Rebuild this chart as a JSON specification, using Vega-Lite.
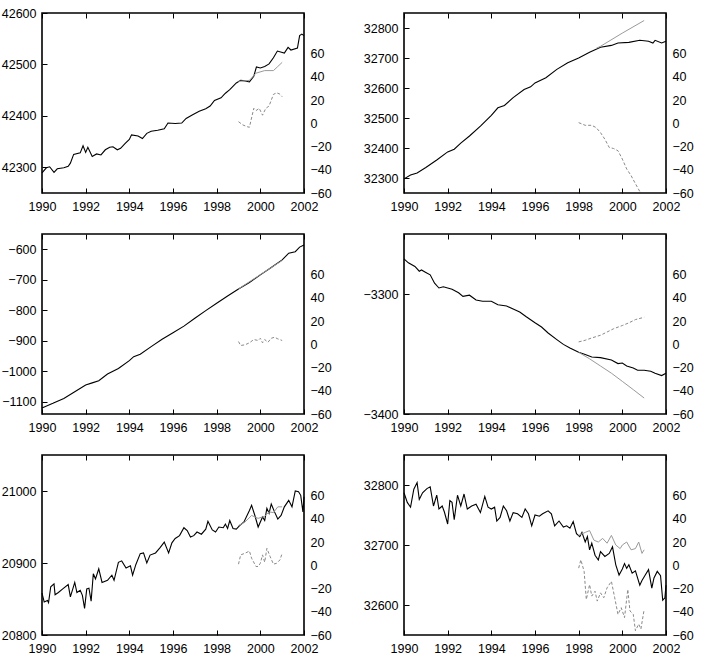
{
"$schema": "https://vega.github.io/schema/vega-lite/v6.json",
"padding": {"left": 0, "top": 6, "right": 5, "bottom": 5},
"config": {"view": {"stroke": "black", "strokeWidth": 1.6}, "axis": {"zindex": 2, "ticks": false, "labelFont": "Liberation Sans", "labelFontSize": 12.5, "labelColor": "black", "domain": false, "grid": true, "gridColor": "black", "gridOpacity": 1, "gridWidth": 1, "labelOverlap": false, "labelFlush": false, "title": null}, "axisX": {"labelPadding": 7}, "axisY": {"labelPadding": 6}},
"datasets": {"d": [
{"p":1,"s":"a","t":1990.0,"v":42289},{"p":1,"s":"a","t":1990.2,"v":42299},{"p":1,"s":"a","t":1990.35,"v":42301},{"p":1,"s":"a","t":1990.55,"v":42290},{"p":1,"s":"a","t":1990.7,"v":42297},{"p":1,"s":"a","t":1991.0,"v":42299},{"p":1,"s":"a","t":1991.2,"v":42302},{"p":1,"s":"a","t":1991.3,"v":42308},{"p":1,"s":"a","t":1991.45,"v":42325},{"p":1,"s":"a","t":1991.75,"v":42328},{"p":1,"s":"a","t":1991.88,"v":42342},{"p":1,"s":"a","t":1992.0,"v":42329},{"p":1,"s":"a","t":1992.1,"v":42339},{"p":1,"s":"a","t":1992.3,"v":42321},{"p":1,"s":"a","t":1992.5,"v":42326},{"p":1,"s":"a","t":1992.7,"v":42324},{"p":1,"s":"a","t":1992.9,"v":42334},{"p":1,"s":"a","t":1993.1,"v":42339},{"p":1,"s":"a","t":1993.25,"v":42340},{"p":1,"s":"a","t":1993.45,"v":42334},{"p":1,"s":"a","t":1993.6,"v":42337},{"p":1,"s":"a","t":1993.8,"v":42346},{"p":1,"s":"a","t":1994.0,"v":42354},{"p":1,"s":"a","t":1994.1,"v":42363},{"p":1,"s":"a","t":1994.4,"v":42361},{"p":1,"s":"a","t":1994.6,"v":42356},{"p":1,"s":"a","t":1994.8,"v":42366},{"p":1,"s":"a","t":1995.0,"v":42370},{"p":1,"s":"a","t":1995.3,"v":42372},{"p":1,"s":"a","t":1995.6,"v":42375},{"p":1,"s":"a","t":1995.77,"v":42386},{"p":1,"s":"a","t":1996.1,"v":42385},{"p":1,"s":"a","t":1996.4,"v":42386},{"p":1,"s":"a","t":1996.6,"v":42395},{"p":1,"s":"a","t":1996.9,"v":42402},{"p":1,"s":"a","t":1997.2,"v":42409},{"p":1,"s":"a","t":1997.5,"v":42414},{"p":1,"s":"a","t":1997.7,"v":42419},{"p":1,"s":"a","t":1997.9,"v":42430},{"p":1,"s":"a","t":1998.2,"v":42435},{"p":1,"s":"a","t":1998.4,"v":42444},{"p":1,"s":"a","t":1998.6,"v":42451},{"p":1,"s":"a","t":1998.9,"v":42464},{"p":1,"s":"a","t":1999.1,"v":42469},{"p":1,"s":"a","t":1999.3,"v":42468},{"p":1,"s":"a","t":1999.5,"v":42466},{"p":1,"s":"a","t":1999.7,"v":42477},{"p":1,"s":"a","t":1999.82,"v":42495},{"p":1,"s":"a","t":2000.0,"v":42493},{"p":1,"s":"a","t":2000.2,"v":42496},{"p":1,"s":"a","t":2000.4,"v":42501},{"p":1,"s":"a","t":2000.6,"v":42513},{"p":1,"s":"a","t":2000.78,"v":42526},{"p":1,"s":"a","t":2001.1,"v":42522},{"p":1,"s":"a","t":2001.27,"v":42533},{"p":1,"s":"a","t":2001.4,"v":42528},{"p":1,"s":"a","t":2001.7,"v":42532},{"p":1,"s":"a","t":2001.8,"v":42556},{"p":1,"s":"a","t":2001.9,"v":42559},{"p":1,"s":"a","t":2002.0,"v":42556},
{"p":1,"s":"f","t":1999.0,"v":42467},{"p":1,"s":"f","t":1999.5,"v":42469},{"p":1,"s":"f","t":1999.8,"v":42483},{"p":1,"s":"f","t":2000.2,"v":42488},{"p":1,"s":"f","t":2000.6,"v":42488},{"p":1,"s":"f","t":2000.8,"v":42496},{"p":1,"s":"f","t":2001.0,"v":42504},
{"p":1,"s":"d","t":1999.0,"v":1.4},{"p":1,"s":"d","t":1999.2,"v":-1.4},{"p":1,"s":"d","t":1999.4,"v":-2.9},{"p":1,"s":"d","t":1999.5,"v":-3.4},{"p":1,"s":"d","t":1999.7,"v":12.9},{"p":1,"s":"d","t":1999.8,"v":10.9},{"p":1,"s":"d","t":1999.95,"v":12.9},{"p":1,"s":"d","t":2000.1,"v":7},{"p":1,"s":"d","t":2000.25,"v":12.9},{"p":1,"s":"d","t":2000.4,"v":14.9},{"p":1,"s":"d","t":2000.6,"v":24.9},{"p":1,"s":"d","t":2000.75,"v":26.3},{"p":1,"s":"d","t":2000.9,"v":25.1},{"p":1,"s":"d","t":2001.0,"v":22.9},
{"p":2,"s":"a","t":1990.0,"v":32297},{"p":2,"s":"a","t":1990.3,"v":32310},{"p":2,"s":"a","t":1990.6,"v":32317},{"p":2,"s":"a","t":1991.0,"v":32335},{"p":2,"s":"a","t":1991.5,"v":32360},{"p":2,"s":"a","t":1992.0,"v":32387},{"p":2,"s":"a","t":1992.3,"v":32396},{"p":2,"s":"a","t":1992.6,"v":32416},{"p":2,"s":"a","t":1993.0,"v":32440},{"p":2,"s":"a","t":1993.5,"v":32473},{"p":2,"s":"a","t":1994.0,"v":32509},{"p":2,"s":"a","t":1994.3,"v":32534},{"p":2,"s":"a","t":1994.6,"v":32542},{"p":2,"s":"a","t":1995.0,"v":32568},{"p":2,"s":"a","t":1995.5,"v":32595},{"p":2,"s":"a","t":1995.8,"v":32604},{"p":2,"s":"a","t":1996.0,"v":32617},{"p":2,"s":"a","t":1996.5,"v":32634},{"p":2,"s":"a","t":1997.0,"v":32662},{"p":2,"s":"a","t":1997.5,"v":32684},{"p":2,"s":"a","t":1998.0,"v":32700},{"p":2,"s":"a","t":1998.5,"v":32719},{"p":2,"s":"a","t":1999.0,"v":32736},{"p":2,"s":"a","t":1999.5,"v":32742},{"p":2,"s":"a","t":1999.8,"v":32750},{"p":2,"s":"a","t":2000.3,"v":32752},{"p":2,"s":"a","t":2000.8,"v":32759},{"p":2,"s":"a","t":2001.2,"v":32756},{"p":2,"s":"a","t":2001.4,"v":32750},{"p":2,"s":"a","t":2001.5,"v":32759},{"p":2,"s":"a","t":2001.8,"v":32750},{"p":2,"s":"a","t":2002.0,"v":32756},
{"p":2,"s":"f","t":1998.8,"v":32732},{"p":2,"s":"f","t":1999.0,"v":32739},{"p":2,"s":"f","t":2000.0,"v":32783},{"p":2,"s":"f","t":2001.0,"v":32825},
{"p":2,"s":"d","t":1998.0,"v":0.6},{"p":2,"s":"d","t":1998.3,"v":-1.7},{"p":2,"s":"d","t":1998.6,"v":-1.7},{"p":2,"s":"d","t":1998.8,"v":-3.7},{"p":2,"s":"d","t":1999.0,"v":-8},{"p":2,"s":"d","t":1999.2,"v":-13.7},{"p":2,"s":"d","t":1999.4,"v":-20.8},{"p":2,"s":"d","t":1999.6,"v":-21.7},{"p":2,"s":"d","t":1999.8,"v":-23.6},{"p":2,"s":"d","t":2000.0,"v":-30.8},{"p":2,"s":"d","t":2000.2,"v":-39.3},{"p":2,"s":"d","t":2000.4,"v":-45},{"p":2,"s":"d","t":2000.6,"v":-52},{"p":2,"s":"d","t":2000.8,"v":-58.7},{"p":2,"s":"d","t":2000.85,"v":-60.6},
{"p":3,"s":"a","t":1990.0,"v":-1120},{"p":3,"s":"a","t":1990.5,"v":-1105},{"p":3,"s":"a","t":1991.0,"v":-1089},{"p":3,"s":"a","t":1991.5,"v":-1067},{"p":3,"s":"a","t":1992.0,"v":-1045},{"p":3,"s":"a","t":1992.3,"v":-1038},{"p":3,"s":"a","t":1992.6,"v":-1031},{"p":3,"s":"a","t":1993.0,"v":-1009},{"p":3,"s":"a","t":1993.5,"v":-991},{"p":3,"s":"a","t":1994.0,"v":-965},{"p":3,"s":"a","t":1994.2,"v":-952},{"p":3,"s":"a","t":1994.5,"v":-944},{"p":3,"s":"a","t":1995.0,"v":-919},{"p":3,"s":"a","t":1995.5,"v":-895},{"p":3,"s":"a","t":1996.0,"v":-874},{"p":3,"s":"a","t":1996.5,"v":-852},{"p":3,"s":"a","t":1997.0,"v":-826},{"p":3,"s":"a","t":1997.5,"v":-801},{"p":3,"s":"a","t":1998.0,"v":-777},{"p":3,"s":"a","t":1998.5,"v":-753},{"p":3,"s":"a","t":1999.0,"v":-730},{"p":3,"s":"a","t":1999.5,"v":-709},{"p":3,"s":"a","t":2000.0,"v":-684},{"p":3,"s":"a","t":2000.5,"v":-660},{"p":3,"s":"a","t":2001.0,"v":-635},{"p":3,"s":"a","t":2001.3,"v":-613},{"p":3,"s":"a","t":2001.6,"v":-608},{"p":3,"s":"a","t":2001.8,"v":-593},{"p":3,"s":"a","t":2002.0,"v":-586},
{"p":3,"s":"f","t":1999.0,"v":-730},{"p":3,"s":"f","t":2000.0,"v":-683},{"p":3,"s":"f","t":2001.0,"v":-637},
{"p":3,"s":"d","t":1999.0,"v":2.4},{"p":3,"s":"d","t":1999.1,"v":-1},{"p":3,"s":"d","t":1999.3,"v":-0.4},{"p":3,"s":"d","t":1999.5,"v":1.3},{"p":3,"s":"d","t":1999.7,"v":4.1},{"p":3,"s":"d","t":1999.9,"v":3.3},{"p":3,"s":"d","t":2000.0,"v":5.2},{"p":3,"s":"d","t":2000.1,"v":1.3},{"p":3,"s":"d","t":2000.2,"v":4.1},{"p":3,"s":"d","t":2000.35,"v":1.8},{"p":3,"s":"d","t":2000.5,"v":5.2},{"p":3,"s":"d","t":2000.65,"v":6.1},{"p":3,"s":"d","t":2000.8,"v":4.7},{"p":3,"s":"d","t":2001.0,"v":3.3},
{"p":4,"s":"a","t":1990.0,"v":-3270.8},{"p":4,"s":"a","t":1990.2,"v":-3274},{"p":4,"s":"a","t":1990.5,"v":-3277},{"p":4,"s":"a","t":1990.7,"v":-3281},{"p":4,"s":"a","t":1990.8,"v":-3280},{"p":4,"s":"a","t":1991.0,"v":-3282},{"p":4,"s":"a","t":1991.2,"v":-3284},{"p":4,"s":"a","t":1991.4,"v":-3291},{"p":4,"s":"a","t":1991.6,"v":-3295},{"p":4,"s":"a","t":1991.8,"v":-3294},{"p":4,"s":"a","t":1992.0,"v":-3295},{"p":4,"s":"a","t":1992.2,"v":-3296},{"p":4,"s":"a","t":1992.5,"v":-3299},{"p":4,"s":"a","t":1992.7,"v":-3302},{"p":4,"s":"a","t":1993.0,"v":-3301},{"p":4,"s":"a","t":1993.3,"v":-3305},{"p":4,"s":"a","t":1993.6,"v":-3306},{"p":4,"s":"a","t":1994.0,"v":-3306},{"p":4,"s":"a","t":1994.3,"v":-3309},{"p":4,"s":"a","t":1994.7,"v":-3310},{"p":4,"s":"a","t":1995.0,"v":-3312.5},{"p":4,"s":"a","t":1995.3,"v":-3315},{"p":4,"s":"a","t":1995.6,"v":-3319},{"p":4,"s":"a","t":1996.0,"v":-3324},{"p":4,"s":"a","t":1996.3,"v":-3327.5},{"p":4,"s":"a","t":1996.6,"v":-3332.5},{"p":4,"s":"a","t":1997.0,"v":-3338},{"p":4,"s":"a","t":1997.3,"v":-3342},{"p":4,"s":"a","t":1997.6,"v":-3345},{"p":4,"s":"a","t":1998.0,"v":-3348.6},{"p":4,"s":"a","t":1998.3,"v":-3350.5},{"p":4,"s":"a","t":1998.6,"v":-3352.5},{"p":4,"s":"a","t":1999.0,"v":-3353},{"p":4,"s":"a","t":1999.5,"v":-3355},{"p":4,"s":"a","t":1999.8,"v":-3358},{"p":4,"s":"a","t":2000.0,"v":-3357.5},{"p":4,"s":"a","t":2000.2,"v":-3360},{"p":4,"s":"a","t":2000.5,"v":-3361.7},{"p":4,"s":"a","t":2000.7,"v":-3363.6},{"p":4,"s":"a","t":2001.0,"v":-3363.6},{"p":4,"s":"a","t":2001.3,"v":-3364.4},{"p":4,"s":"a","t":2001.5,"v":-3366},{"p":4,"s":"a","t":2001.8,"v":-3368},{"p":4,"s":"a","t":2002.0,"v":-3366},
{"p":4,"s":"f","t":1998.0,"v":-3348.6},{"p":4,"s":"f","t":1998.5,"v":-3354},{"p":4,"s":"f","t":1999.0,"v":-3360},{"p":4,"s":"f","t":1999.5,"v":-3366},{"p":4,"s":"f","t":2000.0,"v":-3372.8},{"p":4,"s":"f","t":2000.5,"v":-3379.7},{"p":4,"s":"f","t":2001.0,"v":-3386.7},
{"p":4,"s":"d","t":1998.0,"v":2.1},{"p":4,"s":"d","t":1998.3,"v":3.5},{"p":4,"s":"d","t":1998.6,"v":5.5},{"p":4,"s":"d","t":1999.0,"v":7.8},{"p":4,"s":"d","t":1999.3,"v":10.6},{"p":4,"s":"d","t":1999.6,"v":13.4},{"p":4,"s":"d","t":2000.0,"v":16.2},{"p":4,"s":"d","t":2000.3,"v":18.5},{"p":4,"s":"d","t":2000.6,"v":21.3},{"p":4,"s":"d","t":2001.0,"v":23.3},
{"p":5,"s":"a","t":1990.0,"v":20858},{"p":5,"s":"a","t":1990.1,"v":20846},{"p":5,"s":"a","t":1990.25,"v":20848},{"p":5,"s":"a","t":1990.3,"v":20845},{"p":5,"s":"a","t":1990.4,"v":20867},{"p":5,"s":"a","t":1990.55,"v":20871},{"p":5,"s":"a","t":1990.6,"v":20856},{"p":5,"s":"a","t":1990.75,"v":20859},{"p":5,"s":"a","t":1990.95,"v":20864},{"p":5,"s":"a","t":1991.2,"v":20870},{"p":5,"s":"a","t":1991.3,"v":20853},{"p":5,"s":"a","t":1991.5,"v":20873},{"p":5,"s":"a","t":1991.6,"v":20859},{"p":5,"s":"a","t":1991.75,"v":20862},{"p":5,"s":"a","t":1991.85,"v":20855},{"p":5,"s":"a","t":1991.95,"v":20837},{"p":5,"s":"a","t":1992.05,"v":20864},{"p":5,"s":"a","t":1992.15,"v":20865},{"p":5,"s":"a","t":1992.25,"v":20847},{"p":5,"s":"a","t":1992.35,"v":20885},{"p":5,"s":"a","t":1992.45,"v":20878},{"p":5,"s":"a","t":1992.6,"v":20892},{"p":5,"s":"a","t":1992.75,"v":20873},{"p":5,"s":"a","t":1993.0,"v":20876},{"p":5,"s":"a","t":1993.2,"v":20883},{"p":5,"s":"a","t":1993.3,"v":20876},{"p":5,"s":"a","t":1993.5,"v":20901},{"p":5,"s":"a","t":1993.65,"v":20903},{"p":5,"s":"a","t":1993.85,"v":20893},{"p":5,"s":"a","t":1994.05,"v":20896},{"p":5,"s":"a","t":1994.15,"v":20883},{"p":5,"s":"a","t":1994.3,"v":20898},{"p":5,"s":"a","t":1994.5,"v":20913},{"p":5,"s":"a","t":1994.65,"v":20914},{"p":5,"s":"a","t":1994.8,"v":20900},{"p":5,"s":"a","t":1994.95,"v":20911},{"p":5,"s":"a","t":1995.2,"v":20914},{"p":5,"s":"a","t":1995.4,"v":20921},{"p":5,"s":"a","t":1995.6,"v":20929},{"p":5,"s":"a","t":1995.8,"v":20914},{"p":5,"s":"a","t":1995.95,"v":20928},{"p":5,"s":"a","t":1996.1,"v":20934},{"p":5,"s":"a","t":1996.3,"v":20938},{"p":5,"s":"a","t":1996.5,"v":20949},{"p":5,"s":"a","t":1996.65,"v":20945},{"p":5,"s":"a","t":1996.8,"v":20936},{"p":5,"s":"a","t":1996.95,"v":20938},{"p":5,"s":"a","t":1997.1,"v":20943},{"p":5,"s":"a","t":1997.3,"v":20940},{"p":5,"s":"a","t":1997.5,"v":20947},{"p":5,"s":"a","t":1997.6,"v":20958},{"p":5,"s":"a","t":1997.8,"v":20946},{"p":5,"s":"a","t":1997.95,"v":20943},{"p":5,"s":"a","t":1998.1,"v":20950},{"p":5,"s":"a","t":1998.3,"v":20949},{"p":5,"s":"a","t":1998.4,"v":20954},{"p":5,"s":"a","t":1998.5,"v":20948},{"p":5,"s":"a","t":1998.6,"v":20959},{"p":5,"s":"a","t":1998.75,"v":20948},{"p":5,"s":"a","t":1998.9,"v":20947},{"p":5,"s":"a","t":1999.05,"v":20952},{"p":5,"s":"a","t":1999.25,"v":20957},{"p":5,"s":"a","t":1999.5,"v":20973},{"p":5,"s":"a","t":1999.6,"v":20980},{"p":5,"s":"a","t":1999.75,"v":20966},{"p":5,"s":"a","t":1999.9,"v":20950},{"p":5,"s":"a","t":2000.1,"v":20964},{"p":5,"s":"a","t":2000.2,"v":20959},{"p":5,"s":"a","t":2000.3,"v":20976},{"p":5,"s":"a","t":2000.4,"v":20969},{"p":5,"s":"a","t":2000.5,"v":20982},{"p":5,"s":"a","t":2000.65,"v":20971},{"p":5,"s":"a","t":2000.8,"v":20961},{"p":5,"s":"a","t":2000.95,"v":20966},{"p":5,"s":"a","t":2001.1,"v":20978},{"p":5,"s":"a","t":2001.3,"v":20987},{"p":5,"s":"a","t":2001.45,"v":20978},{"p":5,"s":"a","t":2001.6,"v":21000},{"p":5,"s":"a","t":2001.75,"v":20999},{"p":5,"s":"a","t":2001.85,"v":20994},{"p":5,"s":"a","t":2001.95,"v":20971},{"p":5,"s":"a","t":2002.0,"v":20992},
{"p":5,"s":"f","t":1999.0,"v":20952},{"p":5,"s":"f","t":1999.3,"v":20957},{"p":5,"s":"f","t":1999.6,"v":20966},{"p":5,"s":"f","t":1999.9,"v":20962},{"p":5,"s":"f","t":2000.2,"v":20965},{"p":5,"s":"f","t":2000.4,"v":20971},{"p":5,"s":"f","t":2000.6,"v":20970},{"p":5,"s":"f","t":2000.8,"v":20978},{"p":5,"s":"f","t":2001.0,"v":20978},
{"p":5,"s":"d","t":1999.0,"v":1},{"p":5,"s":"d","t":1999.1,"v":9},{"p":5,"s":"d","t":1999.3,"v":10.4},{"p":5,"s":"d","t":1999.5,"v":12.3},{"p":5,"s":"d","t":1999.6,"v":6.1},{"p":5,"s":"d","t":1999.8,"v":-1},{"p":5,"s":"d","t":1999.9,"v":-1},{"p":5,"s":"d","t":2000.0,"v":1.8},{"p":5,"s":"d","t":2000.1,"v":9},{"p":5,"s":"d","t":2000.2,"v":2.7},{"p":5,"s":"d","t":2000.3,"v":14.6},{"p":5,"s":"d","t":2000.45,"v":7.5},{"p":5,"s":"d","t":2000.6,"v":1},{"p":5,"s":"d","t":2000.75,"v":1.8},{"p":5,"s":"d","t":2000.9,"v":4.7},{"p":5,"s":"d","t":2001.0,"v":10.4},
{"p":6,"s":"a","t":1990.0,"v":32787},{"p":6,"s":"a","t":1990.15,"v":32771},{"p":6,"s":"a","t":1990.3,"v":32763},{"p":6,"s":"a","t":1990.45,"v":32793},{"p":6,"s":"a","t":1990.6,"v":32804},{"p":6,"s":"a","t":1990.7,"v":32776},{"p":6,"s":"a","t":1990.85,"v":32787},{"p":6,"s":"a","t":1991.05,"v":32794},{"p":6,"s":"a","t":1991.2,"v":32797},{"p":6,"s":"a","t":1991.35,"v":32765},{"p":6,"s":"a","t":1991.5,"v":32783},{"p":6,"s":"a","t":1991.6,"v":32760},{"p":6,"s":"a","t":1991.75,"v":32765},{"p":6,"s":"a","t":1991.85,"v":32755},{"p":6,"s":"a","t":1992.0,"v":32735},{"p":6,"s":"a","t":1992.1,"v":32774},{"p":6,"s":"a","t":1992.2,"v":32771},{"p":6,"s":"a","t":1992.3,"v":32742},{"p":6,"s":"a","t":1992.45,"v":32783},{"p":6,"s":"a","t":1992.6,"v":32765},{"p":6,"s":"a","t":1992.75,"v":32785},{"p":6,"s":"a","t":1992.9,"v":32760},{"p":6,"s":"a","t":1993.1,"v":32765},{"p":6,"s":"a","t":1993.3,"v":32768},{"p":6,"s":"a","t":1993.5,"v":32754},{"p":6,"s":"a","t":1993.7,"v":32781},{"p":6,"s":"a","t":1993.85,"v":32763},{"p":6,"s":"a","t":1994.0,"v":32760},{"p":6,"s":"a","t":1994.15,"v":32763},{"p":6,"s":"a","t":1994.25,"v":32740},{"p":6,"s":"a","t":1994.4,"v":32746},{"p":6,"s":"a","t":1994.55,"v":32765},{"p":6,"s":"a","t":1994.7,"v":32757},{"p":6,"s":"a","t":1994.85,"v":32740},{"p":6,"s":"a","t":1995.0,"v":32754},{"p":6,"s":"a","t":1995.2,"v":32752},{"p":6,"s":"a","t":1995.4,"v":32746},{"p":6,"s":"a","t":1995.55,"v":32760},{"p":6,"s":"a","t":1995.7,"v":32752},{"p":6,"s":"a","t":1995.85,"v":32732},{"p":6,"s":"a","t":1996.0,"v":32750},{"p":6,"s":"a","t":1996.2,"v":32748},{"p":6,"s":"a","t":1996.35,"v":32752},{"p":6,"s":"a","t":1996.6,"v":32757},{"p":6,"s":"a","t":1996.75,"v":32752},{"p":6,"s":"a","t":1996.9,"v":32732},{"p":6,"s":"a","t":1997.1,"v":32740},{"p":6,"s":"a","t":1997.3,"v":32730},{"p":6,"s":"a","t":1997.45,"v":32732},{"p":6,"s":"a","t":1997.6,"v":32728},{"p":6,"s":"a","t":1997.75,"v":32739},{"p":6,"s":"a","t":1997.9,"v":32719},{"p":6,"s":"a","t":1998.05,"v":32714},{"p":6,"s":"a","t":1998.15,"v":32721},{"p":6,"s":"a","t":1998.3,"v":32705},{"p":6,"s":"a","t":1998.4,"v":32714},{"p":6,"s":"a","t":1998.5,"v":32692},{"p":6,"s":"a","t":1998.6,"v":32703},{"p":6,"s":"a","t":1998.75,"v":32683},{"p":6,"s":"a","t":1998.9,"v":32675},{"p":6,"s":"a","t":1999.0,"v":32689},{"p":6,"s":"a","t":1999.2,"v":32681},{"p":6,"s":"a","t":1999.4,"v":32686},{"p":6,"s":"a","t":1999.55,"v":32697},{"p":6,"s":"a","t":1999.7,"v":32667},{"p":6,"s":"a","t":1999.85,"v":32650},{"p":6,"s":"a","t":2000.0,"v":32660},{"p":6,"s":"a","t":2000.1,"v":32669},{"p":6,"s":"a","t":2000.2,"v":32661},{"p":6,"s":"a","t":2000.3,"v":32667},{"p":6,"s":"a","t":2000.45,"v":32653},{"p":6,"s":"a","t":2000.6,"v":32657},{"p":6,"s":"a","t":2000.8,"v":32633},{"p":6,"s":"a","t":2000.9,"v":32641},{"p":6,"s":"a","t":2001.05,"v":32650},{"p":6,"s":"a","t":2001.2,"v":32659},{"p":6,"s":"a","t":2001.35,"v":32628},{"p":6,"s":"a","t":2001.45,"v":32645},{"p":6,"s":"a","t":2001.6,"v":32656},{"p":6,"s":"a","t":2001.75,"v":32649},{"p":6,"s":"a","t":2001.85,"v":32608},{"p":6,"s":"a","t":2001.95,"v":32612},{"p":6,"s":"a","t":2002.0,"v":32633},
{"p":6,"s":"f","t":1998.0,"v":32716},{"p":6,"s":"f","t":1998.3,"v":32721},{"p":6,"s":"f","t":1998.5,"v":32724},{"p":6,"s":"f","t":1998.7,"v":32708},{"p":6,"s":"f","t":1998.9,"v":32705},{"p":6,"s":"f","t":1999.1,"v":32711},{"p":6,"s":"f","t":1999.3,"v":32703},{"p":6,"s":"f","t":1999.5,"v":32716},{"p":6,"s":"f","t":1999.7,"v":32700},{"p":6,"s":"f","t":1999.9,"v":32694},{"p":6,"s":"f","t":2000.0,"v":32700},{"p":6,"s":"f","t":2000.2,"v":32705},{"p":6,"s":"f","t":2000.4,"v":32692},{"p":6,"s":"f","t":2000.6,"v":32694},{"p":6,"s":"f","t":2000.75,"v":32705},{"p":6,"s":"f","t":2000.9,"v":32686},{"p":6,"s":"f","t":2001.0,"v":32692},
{"p":6,"s":"d","t":1998.0,"v":-2.4},{"p":6,"s":"d","t":1998.1,"v":4.7},{"p":6,"s":"d","t":1998.25,"v":-5.2},{"p":6,"s":"d","t":1998.35,"v":-29.4},{"p":6,"s":"d","t":1998.5,"v":-16.6},{"p":6,"s":"d","t":1998.6,"v":-26.5},{"p":6,"s":"d","t":1998.75,"v":-22.3},{"p":6,"s":"d","t":1998.85,"v":-30.8},{"p":6,"s":"d","t":1999.0,"v":-23.7},{"p":6,"s":"d","t":1999.15,"v":-27.9},{"p":6,"s":"d","t":1999.3,"v":-19.4},{"p":6,"s":"d","t":1999.5,"v":-13.8},{"p":6,"s":"d","t":1999.65,"v":-27.9},{"p":6,"s":"d","t":1999.8,"v":-42.2},{"p":6,"s":"d","t":1999.95,"v":-36.5},{"p":6,"s":"d","t":2000.1,"v":-45},{"p":6,"s":"d","t":2000.25,"v":-20.8},{"p":6,"s":"d","t":2000.35,"v":-39.3},{"p":6,"s":"d","t":2000.5,"v":-42.2},{"p":6,"s":"d","t":2000.6,"v":-56.3},{"p":6,"s":"d","t":2000.75,"v":-50.6},{"p":6,"s":"d","t":2000.85,"v":-54.9},{"p":6,"s":"d","t":2001.0,"v":-37.9}
]},
"data": {"name": "d"},
"columns": 2,
"bounds": "flush",
"spacing": {"row": 41, "column": 100},
"concat": [
{"width": 262, "height": 180, "transform": [{"filter": "datum.p === 1"}],
 "layer": [
  {"transform": [{"filter": "datum.s === 'a'"}], "mark": {"type": "line", "color": "black", "strokeWidth": 1.1},
   "encoding": {"x": {"field": "t", "type": "quantitative", "scale": {"domain": [1990, 2002], "nice": false, "zero": false}, "axis": {"orient": "bottom", "values": [1990,1992,1994,1996,1998,2000,2002], "format": "d", "gridDash": [5, 170, 5, 0]}},
    "y": {"field": "v", "type": "quantitative", "scale": {"domain": [42250, 42600], "nice": false, "zero": false}, "axis": {"orient": "left", "format": "d", "values": [42300,42400,42500,42600], "gridDash": [5, 400]}}}},
  {"transform": [{"filter": "datum.s === 'f'"}], "mark": {"type": "line", "color": "#9a9a9a", "strokeWidth": 1},
   "encoding": {"x": {"field": "t", "type": "quantitative", "axis": {"orient": "bottom", "labels": false, "gridDash": [3, 174, 3, 0], "values": [1990.5,1991,1991.5,1992.5,1993,1993.5,1994.5,1995,1995.5,1996.5,1997,1997.5,1998.5,1999,1999.5,2000.5,2001,2001.5]}},
    "y": {"field": "v", "type": "quantitative", "scale": {"domain": [42250, 42600], "nice": false, "zero": false}, "axis": {"orient": "left", "labels": false, "gridDash": [3, 400], "values": [42260,42280,42320,42340,42360,42380,42420,42440,42460,42480,42520,42540,42560,42580]}}}},
  {"transform": [{"filter": "datum.s === 'd'"}], "mark": {"type": "line", "color": "#8a8a8a", "strokeWidth": 1, "strokeDash": [3, 2], "clip": true},
   "encoding": {"x": {"field": "t", "type": "quantitative", "axis": null},
    "y": {"field": "v", "type": "quantitative", "scale": {"domain": [-60, 95], "nice": false, "zero": false}, "axis": {"orient": "right", "format": "d", "values": [-60,-40,-20,0,20,40,60], "gridDash": [5, 400]}}}},
  {"transform": [{"filter": "datum.s === 'd'"}], "mark": {"type": "line", "opacity": 0},
   "encoding": {"x": {"field": "t", "type": "quantitative", "axis": null},
    "y": {"field": "v", "type": "quantitative", "scale": {"domain": [-60, 95], "nice": false, "zero": false}, "axis": {"orient": "right", "labels": false, "gridDash": [3, 400], "values": [-50,-30,-10,10,30,50,70,80,90]}}}}
 ],
 "resolve": {"scale": {"y": "independent"}, "axis": {"x": "independent", "y": "independent"}}},
{"width": 262, "height": 180, "transform": [{"filter": "datum.p === 2"}],
 "layer": [
  {"transform": [{"filter": "datum.s === 'a'"}], "mark": {"type": "line", "color": "black", "strokeWidth": 1.1},
   "encoding": {"x": {"field": "t", "type": "quantitative", "scale": {"domain": [1990, 2002], "nice": false, "zero": false}, "axis": {"orient": "bottom", "values": [1990,1992,1994,1996,1998,2000,2002], "format": "d", "gridDash": [5, 170, 5, 0]}},
    "y": {"field": "v", "type": "quantitative", "scale": {"domain": [32250, 32850], "nice": false, "zero": false}, "axis": {"orient": "left", "format": "d", "values": [32300,32400,32500,32600,32700,32800], "gridDash": [5, 400]}}}},
  {"transform": [{"filter": "datum.s === 'f'"}], "mark": {"type": "line", "color": "#9a9a9a", "strokeWidth": 1},
   "encoding": {"x": {"field": "t", "type": "quantitative", "axis": {"orient": "bottom", "labels": false, "gridDash": [3, 174, 3, 0], "values": [1990.5,1991,1991.5,1992.5,1993,1993.5,1994.5,1995,1995.5,1996.5,1997,1997.5,1998.5,1999,1999.5,2000.5,2001,2001.5]}},
    "y": {"field": "v", "type": "quantitative", "scale": {"domain": [32250, 32850], "nice": false, "zero": false}, "axis": {"orient": "left", "labels": false, "gridDash": [3, 400], "values": [32260,32280,32320,32340,32360,32380,32420,32440,32460,32480,32520,32540,32560,32580,32620,32640,32660,32680,32720,32740,32760,32780,32820,32840]}}}},
  {"transform": [{"filter": "datum.s === 'd'"}], "mark": {"type": "line", "color": "#8a8a8a", "strokeWidth": 1, "strokeDash": [3, 2], "clip": true},
   "encoding": {"x": {"field": "t", "type": "quantitative", "axis": null},
    "y": {"field": "v", "type": "quantitative", "scale": {"domain": [-60, 95], "nice": false, "zero": false}, "axis": {"orient": "right", "format": "d", "values": [-60,-40,-20,0,20,40,60], "gridDash": [5, 400]}}}},
  {"transform": [{"filter": "datum.s === 'd'"}], "mark": {"type": "line", "opacity": 0},
   "encoding": {"x": {"field": "t", "type": "quantitative", "axis": null},
    "y": {"field": "v", "type": "quantitative", "scale": {"domain": [-60, 95], "nice": false, "zero": false}, "axis": {"orient": "right", "labels": false, "gridDash": [3, 400], "values": [-50,-30,-10,10,30,50,70,80,90]}}}}
 ],
 "resolve": {"scale": {"y": "independent"}, "axis": {"x": "independent", "y": "independent"}}},
{"width": 262, "height": 180, "transform": [{"filter": "datum.p === 3"}],
 "layer": [
  {"transform": [{"filter": "datum.s === 'a'"}], "mark": {"type": "line", "color": "black", "strokeWidth": 1.1},
   "encoding": {"x": {"field": "t", "type": "quantitative", "scale": {"domain": [1990, 2002], "nice": false, "zero": false}, "axis": {"orient": "bottom", "values": [1990,1992,1994,1996,1998,2000,2002], "format": "d", "gridDash": [5, 170, 5, 0]}},
    "y": {"field": "v", "type": "quantitative", "scale": {"domain": [-1140, -550], "nice": false, "zero": false}, "axis": {"orient": "left", "format": "d", "values": [-1100,-1000,-900,-800,-700,-600], "gridDash": [5, 400]}}}},
  {"transform": [{"filter": "datum.s === 'f'"}], "mark": {"type": "line", "color": "#9a9a9a", "strokeWidth": 1},
   "encoding": {"x": {"field": "t", "type": "quantitative", "axis": {"orient": "bottom", "labels": false, "gridDash": [3, 174, 3, 0], "values": [1990.5,1991,1991.5,1992.5,1993,1993.5,1994.5,1995,1995.5,1996.5,1997,1997.5,1998.5,1999,1999.5,2000.5,2001,2001.5]}},
    "y": {"field": "v", "type": "quantitative", "scale": {"domain": [-1140, -550], "nice": false, "zero": false}, "axis": {"orient": "left", "labels": false, "gridDash": [3, 400], "values": [-1140,-1120,-1080,-1060,-1040,-1020,-980,-960,-940,-920,-880,-860,-840,-820,-780,-760,-740,-720,-680,-660,-640,-620,-580,-560]}}}},
  {"transform": [{"filter": "datum.s === 'd'"}], "mark": {"type": "line", "color": "#8a8a8a", "strokeWidth": 1, "strokeDash": [3, 2], "clip": true},
   "encoding": {"x": {"field": "t", "type": "quantitative", "axis": null},
    "y": {"field": "v", "type": "quantitative", "scale": {"domain": [-60, 95], "nice": false, "zero": false}, "axis": {"orient": "right", "format": "d", "values": [-60,-40,-20,0,20,40,60], "gridDash": [5, 400]}}}},
  {"transform": [{"filter": "datum.s === 'd'"}], "mark": {"type": "line", "opacity": 0},
   "encoding": {"x": {"field": "t", "type": "quantitative", "axis": null},
    "y": {"field": "v", "type": "quantitative", "scale": {"domain": [-60, 95], "nice": false, "zero": false}, "axis": {"orient": "right", "labels": false, "gridDash": [3, 400], "values": [-50,-30,-10,10,30,50,70,80,90]}}}}
 ],
 "resolve": {"scale": {"y": "independent"}, "axis": {"x": "independent", "y": "independent"}}},
{"width": 262, "height": 180, "transform": [{"filter": "datum.p === 4"}],
 "layer": [
  {"transform": [{"filter": "datum.s === 'a'"}], "mark": {"type": "line", "color": "black", "strokeWidth": 1.1},
   "encoding": {"x": {"field": "t", "type": "quantitative", "scale": {"domain": [1990, 2002], "nice": false, "zero": false}, "axis": {"orient": "bottom", "values": [1990,1992,1994,1996,1998,2000,2002], "format": "d", "gridDash": [5, 170, 5, 0]}},
    "y": {"field": "v", "type": "quantitative", "scale": {"domain": [-3400, -3250], "nice": false, "zero": false}, "axis": {"orient": "left", "format": "d", "values": [-3400,-3300], "gridDash": [5, 400]}}}},
  {"transform": [{"filter": "datum.s === 'f'"}], "mark": {"type": "line", "color": "#9a9a9a", "strokeWidth": 1},
   "encoding": {"x": {"field": "t", "type": "quantitative", "axis": {"orient": "bottom", "labels": false, "gridDash": [3, 174, 3, 0], "values": [1990.5,1991,1991.5,1992.5,1993,1993.5,1994.5,1995,1995.5,1996.5,1997,1997.5,1998.5,1999,1999.5,2000.5,2001,2001.5]}},
    "y": {"field": "v", "type": "quantitative", "scale": {"domain": [-3400, -3250], "nice": false, "zero": false}, "axis": {"orient": "left", "labels": false, "gridDash": [3, 400], "values": [-3390,-3380,-3370,-3360,-3350,-3340,-3330,-3320,-3310,-3290,-3280,-3270,-3260]}}}},
  {"transform": [{"filter": "datum.s === 'd'"}], "mark": {"type": "line", "color": "#8a8a8a", "strokeWidth": 1, "strokeDash": [3, 2], "clip": true},
   "encoding": {"x": {"field": "t", "type": "quantitative", "axis": null},
    "y": {"field": "v", "type": "quantitative", "scale": {"domain": [-60, 95], "nice": false, "zero": false}, "axis": {"orient": "right", "format": "d", "values": [-60,-40,-20,0,20,40,60], "gridDash": [5, 400]}}}},
  {"transform": [{"filter": "datum.s === 'd'"}], "mark": {"type": "line", "opacity": 0},
   "encoding": {"x": {"field": "t", "type": "quantitative", "axis": null},
    "y": {"field": "v", "type": "quantitative", "scale": {"domain": [-60, 95], "nice": false, "zero": false}, "axis": {"orient": "right", "labels": false, "gridDash": [3, 400], "values": [-50,-30,-10,10,30,50,70,80,90]}}}}
 ],
 "resolve": {"scale": {"y": "independent"}, "axis": {"x": "independent", "y": "independent"}}},
{"width": 262, "height": 180, "transform": [{"filter": "datum.p === 5"}],
 "layer": [
  {"transform": [{"filter": "datum.s === 'a'"}], "mark": {"type": "line", "color": "black", "strokeWidth": 1.1},
   "encoding": {"x": {"field": "t", "type": "quantitative", "scale": {"domain": [1990, 2002], "nice": false, "zero": false}, "axis": {"orient": "bottom", "values": [1990,1992,1994,1996,1998,2000,2002], "format": "d", "gridDash": [5, 170, 5, 0]}},
    "y": {"field": "v", "type": "quantitative", "scale": {"domain": [20800, 21050], "nice": false, "zero": false}, "axis": {"orient": "left", "format": "d", "values": [20800,20900,21000], "gridDash": [5, 400]}}}},
  {"transform": [{"filter": "datum.s === 'f'"}], "mark": {"type": "line", "color": "#9a9a9a", "strokeWidth": 1},
   "encoding": {"x": {"field": "t", "type": "quantitative", "axis": {"orient": "bottom", "labels": false, "gridDash": [3, 174, 3, 0], "values": [1990.5,1991,1991.5,1992.5,1993,1993.5,1994.5,1995,1995.5,1996.5,1997,1997.5,1998.5,1999,1999.5,2000.5,2001,2001.5]}},
    "y": {"field": "v", "type": "quantitative", "scale": {"domain": [20800, 21050], "nice": false, "zero": false}, "axis": {"orient": "left", "labels": false, "gridDash": [3, 400], "values": [20820,20840,20860,20880,20920,20940,20960,20980,21020,21040]}}}},
  {"transform": [{"filter": "datum.s === 'd'"}], "mark": {"type": "line", "color": "#8a8a8a", "strokeWidth": 1, "strokeDash": [3, 2], "clip": true},
   "encoding": {"x": {"field": "t", "type": "quantitative", "axis": null},
    "y": {"field": "v", "type": "quantitative", "scale": {"domain": [-60, 95], "nice": false, "zero": false}, "axis": {"orient": "right", "format": "d", "values": [-60,-40,-20,0,20,40,60], "gridDash": [5, 400]}}}},
  {"transform": [{"filter": "datum.s === 'd'"}], "mark": {"type": "line", "opacity": 0},
   "encoding": {"x": {"field": "t", "type": "quantitative", "axis": null},
    "y": {"field": "v", "type": "quantitative", "scale": {"domain": [-60, 95], "nice": false, "zero": false}, "axis": {"orient": "right", "labels": false, "gridDash": [3, 400], "values": [-50,-30,-10,10,30,50,70,80,90]}}}}
 ],
 "resolve": {"scale": {"y": "independent"}, "axis": {"x": "independent", "y": "independent"}}},
{"width": 262, "height": 180, "transform": [{"filter": "datum.p === 6"}],
 "layer": [
  {"transform": [{"filter": "datum.s === 'a'"}], "mark": {"type": "line", "color": "black", "strokeWidth": 1.1},
   "encoding": {"x": {"field": "t", "type": "quantitative", "scale": {"domain": [1990, 2002], "nice": false, "zero": false}, "axis": {"orient": "bottom", "values": [1990,1992,1994,1996,1998,2000,2002], "format": "d", "gridDash": [5, 170, 5, 0]}},
    "y": {"field": "v", "type": "quantitative", "scale": {"domain": [32550, 32850], "nice": false, "zero": false}, "axis": {"orient": "left", "format": "d", "values": [32600,32700,32800], "gridDash": [5, 400]}}}},
  {"transform": [{"filter": "datum.s === 'f'"}], "mark": {"type": "line", "color": "#9a9a9a", "strokeWidth": 1},
   "encoding": {"x": {"field": "t", "type": "quantitative", "axis": {"orient": "bottom", "labels": false, "gridDash": [3, 174, 3, 0], "values": [1990.5,1991,1991.5,1992.5,1993,1993.5,1994.5,1995,1995.5,1996.5,1997,1997.5,1998.5,1999,1999.5,2000.5,2001,2001.5]}},
    "y": {"field": "v", "type": "quantitative", "scale": {"domain": [32550, 32850], "nice": false, "zero": false}, "axis": {"orient": "left", "labels": false, "gridDash": [3, 400], "values": [32560,32580,32620,32640,32660,32680,32720,32740,32760,32780,32820,32840]}}}},
  {"transform": [{"filter": "datum.s === 'd'"}], "mark": {"type": "line", "color": "#8a8a8a", "strokeWidth": 1, "strokeDash": [3, 2], "clip": true},
   "encoding": {"x": {"field": "t", "type": "quantitative", "axis": null},
    "y": {"field": "v", "type": "quantitative", "scale": {"domain": [-60, 95], "nice": false, "zero": false}, "axis": {"orient": "right", "format": "d", "values": [-60,-40,-20,0,20,40,60], "gridDash": [5, 400]}}}},
  {"transform": [{"filter": "datum.s === 'd'"}], "mark": {"type": "line", "opacity": 0},
   "encoding": {"x": {"field": "t", "type": "quantitative", "axis": null},
    "y": {"field": "v", "type": "quantitative", "scale": {"domain": [-60, 95], "nice": false, "zero": false}, "axis": {"orient": "right", "labels": false, "gridDash": [3, 400], "values": [-50,-30,-10,10,30,50,70,80,90]}}}}
 ],
 "resolve": {"scale": {"y": "independent"}, "axis": {"x": "independent", "y": "independent"}}}
]
}
